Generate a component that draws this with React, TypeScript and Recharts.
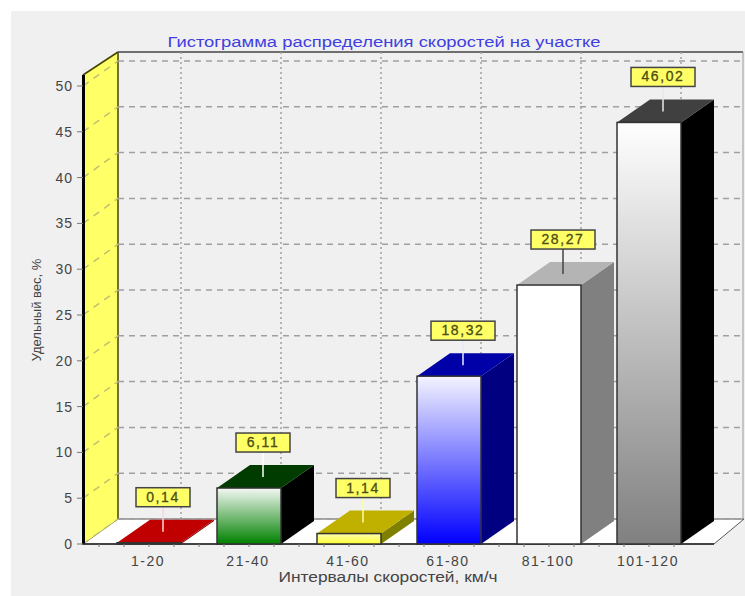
import { BarChart, Bar, XAxis, YAxis, CartesianGrid, LabelList } from "recharts";

const intervals = ["1-20", "21-40", "41-60", "61-80", "81-100", "101-120"];
const shares = [0.14, 6.11, 1.14, 18.32, 28.27, 46.02];
const valueTicks = [0, 5, 10, 15, 20, 25, 30, 35, 40, 45, 50];

const data = intervals.map((name, i) => ({ name, share: shares[i] }));

// front gradient (top, bottom), top face, side face, connector
const barStyles = [
  { from: "#ffffff", to: "#c00000", top: "#c00000", side: "#800000", pin: "#f4d8d8" },
  { from: "#f4f8f4", to: "#008000", top: "#003c00", side: "#000000", pin: "#ffffff" },
  { from: "#ffffb0", to: "#ffff33", top: "#c0b000", side: "#808000", pin: "#ffffa0" },
  { from: "#f4f4ff", to: "#0000ff", top: "#0000a8", side: "#000080", pin: "#e8e8ff" },
  { from: "#ffffff", to: "#ffffff", top: "#b4b4b4", side: "#808080", pin: "#444444" },
  { from: "#ffffff", to: "#808080", top: "#404040", side: "#000000", pin: "#e8e8e8" },
];

const W = 745;
const H = 596;
const LEFT = 83;
const TOP = 75;
const RIGHT = 714;
const FLOOR = 544;
// wall depth of the pseudo-3D box
const DX = 35;
const DY = 25;
// bar depth
const BAR_DX = 33;
const BAR_DY = 23;

// walls and floor sit in their own svg under the transparent chart
const Backdrop = () => (
  <svg width={W} height={H} style={{ position: "absolute", left: 0, top: 0 }}>
    <polygon
      points={`${LEFT},${FLOOR} ${LEFT + DX},${FLOOR - DY} ${RIGHT + 30},${FLOOR - DY} ${RIGHT},${FLOOR}`}
      fill="#ffffff"
      stroke="#555"
      strokeWidth={1}
    />
    <polygon
      points={`${LEFT},${TOP} ${LEFT + DX},${TOP - 23} ${LEFT + DX},${FLOOR - DY} ${LEFT},${FLOOR}`}
      fill="#ffff66"
    />
    <line x1={LEFT + DX} y1={TOP - 23} x2={LEFT + DX} y2={FLOOR - DY} stroke="#444400" strokeWidth={1.5} />
    <line x1={LEFT} y1={TOP} x2={LEFT + DX} y2={TOP - 23} stroke="#444400" strokeWidth={1.5} />
    <line x1={LEFT + DX} y1={TOP - 23} x2={RIGHT + 29} y2={TOP - 23} stroke="#444" strokeWidth={1.5} />
    <line x1={RIGHT + 29} y1={TOP - 23} x2={RIGHT + 29} y2={FLOOR - DY} stroke="#999" strokeWidth={1} />
  </svg>
);

const WallLine = ({ x1, y1, x2 }: any) => {
  // the grid also hands over the plot's top edge, which is no tick
  if (y1 <= TOP) return <g />;
  return (
    <g>
      <line x1={x1} y1={y1} x2={x1 + DX} y2={y1 - DY} stroke="#c0c070" strokeWidth={1.5} strokeDasharray="7 6" />
      <line x1={x1 + DX} y1={y1 - DY} x2={x2 + 29} y2={y1 - DY} stroke="#a0a0a0" strokeWidth={1.5} strokeDasharray="6 5" />
    </g>
  );
};

const WallDrop = ({ x1 }: any) => {
  if (x1 <= LEFT || x1 >= RIGHT) return <g />;
  return (
    <line
      x1={x1 + 32}
      y1={TOP - 23}
      x2={x1 + 32}
      y2={FLOOR - DY}
      stroke="#a0a0a0"
      strokeWidth={1.5}
      strokeDasharray="2 3"
    />
  );
};

const Box3D = ({ x, y, width, height, index }: any) => {
  const s = barStyles[index];
  const right = x + width;
  const bottom = y + height;
  return (
    <g>
      <polygon
        points={`${right},${y} ${right + BAR_DX},${y - BAR_DY} ${right + BAR_DX},${bottom - BAR_DY} ${right},${bottom}`}
        fill={s.side}
      />
      <polygon
        points={`${x},${y} ${x + BAR_DX},${y - BAR_DY} ${right + BAR_DX},${y - BAR_DY} ${right},${y}`}
        fill={s.top}
      />
      <rect x={x} y={y} width={width} height={height} fill={`url(#front${index})`} stroke="#333" strokeWidth={1.5} />
    </g>
  );
};

const ValueTag = ({ x, y, width, value, index }: any) => {
  const text = Number(value).toFixed(2).replace(".", ",");
  const cx = x + width / 2 + 14;
  const end = y - 11;
  const boxW = text.length > 4 ? 64 : 54;
  const boxH = 19;
  const boxBottom = end - 25;
  return (
    <g>
      <line x1={cx} y1={end} x2={cx} y2={boxBottom} stroke={barStyles[index].pin} strokeWidth={1.5} />
      <rect
        x={cx - boxW / 2}
        y={boxBottom - boxH}
        width={boxW}
        height={boxH}
        fill="#ffff66"
        stroke="#444"
        strokeWidth={1.5}
      />
      <text
        x={cx}
        y={boxBottom - 5}
        textAnchor="middle"
        fontFamily="Liberation Sans"
        fontSize={14}
        letterSpacing={1.6}
        fill="#4d4d10"
        stroke="#4d4d10"
        strokeWidth={0.3}
      >
        {text}
      </text>
    </g>
  );
};

const IntervalTick = ({ x, payload }: any) => (
  <g>
    {[-50, -25, 0, 25].map((d) => (
      <line key={d} x1={x + d} y1={FLOOR} x2={x + d} y2={FLOOR + 3} stroke="#777" strokeWidth={1} />
    ))}
    <text
      x={x - 1}
      y={FLOOR + 22}
      textAnchor="middle"
      fontFamily="Liberation Sans"
      fontSize={14}
      letterSpacing={1.5}
      fill="#444"
    >
      {payload.value}
    </text>
  </g>
);

export default function App() {
  return (
    <div style={{ position: "absolute", left: 0, top: 0, width: W, height: H, background: "#ffffff" }}>
      <div style={{ position: "absolute", left: 11, top: 11, width: W - 11, height: H - 11, background: "#f0f0f0" }} />
      <Backdrop />
      <BarChart
        width={W}
        height={H}
        data={data}
        margin={{ top: TOP, left: 0, right: W - RIGHT, bottom: 0 }}
        barCategoryGap="18%"
        style={{ position: "absolute", left: 0, top: 0 }}
      >
        <defs>
          {barStyles.map((s, i) => (
            <linearGradient key={i} id={`front${i}`} x1="0" y1="0" x2="0" y2="1">
              <stop offset="0" stopColor={s.from} />
              <stop offset="1" stopColor={s.to} />
            </linearGradient>
          ))}
        </defs>
        <CartesianGrid horizontal={WallLine} vertical={WallDrop} />
        <XAxis
          dataKey="name"
          height={H - FLOOR}
          axisLine={false}
          tickLine={false}
          padding={{ left: 16, right: 15 }}
          tick={<IntervalTick />}
          interval={0}
        />
        <YAxis
          width={LEFT}
          type="number"
          domain={[0, 51.2]}
          ticks={valueTicks}
          axisLine={false}
          tickSize={6}
          tickMargin={4}
          tickLine={{ stroke: "#777" }}
          tick={{ fontFamily: "Liberation Sans", fontSize: 14, letterSpacing: 1, fill: "#444" }}
        />
        <Bar dataKey="share" shape={<Box3D />} isAnimationActive={false}>
          <LabelList dataKey="share" content={<ValueTag />} />
        </Bar>
        <line x1={LEFT + 0.5} y1={TOP} x2={LEFT + 0.5} y2={FLOOR} stroke="#000" strokeWidth={3} />
        <line x1={LEFT - 1} y1={FLOOR} x2={RIGHT} y2={FLOOR} stroke="#222" strokeWidth={1.5} />
        <text
          x={384}
          y={47}
          textAnchor="middle"
          fontFamily="Liberation Sans"
          fontSize={14}
          textLength={433}
          lengthAdjust="spacingAndGlyphs"
          fill="#4040e0"
        >
          Гистограмма распределения скоростей на участке
        </text>
        <text
          x={388}
          y={582}
          textAnchor="middle"
          fontFamily="Liberation Sans"
          fontSize={14}
          textLength={219}
          lengthAdjust="spacingAndGlyphs"
          fill="#444"
        >
          Интервалы скоростей, км/ч
        </text>
        <text
          transform="translate(41,310) rotate(-90)"
          textAnchor="middle"
          fontFamily="Liberation Sans"
          fontSize={13}
          fill="#444"
        >
          Удельный вес, %
        </text>
      </BarChart>
    </div>
  );
}
